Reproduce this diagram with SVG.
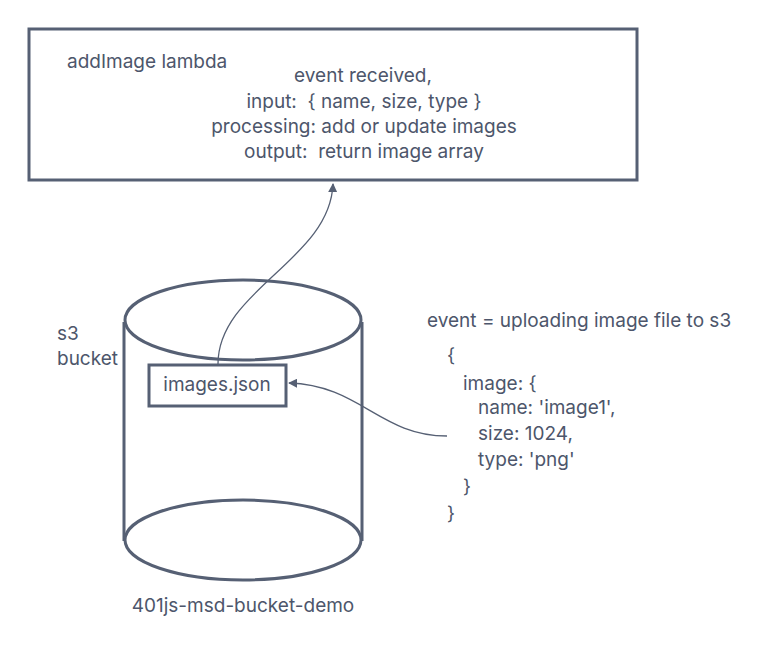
<svg xmlns="http://www.w3.org/2000/svg" width="763" height="652" viewBox="0 0 763 652">
<defs>
<style>
.s{fill:none;stroke:#566074;stroke-width:3}
.c{fill:none;stroke:#566074;stroke-width:1.3}
text{font-family:Inter,"Noto Sans",sans-serif;font-size:19px;fill:#4d566b;white-space:pre}
.m{text-anchor:middle}
</style>
<marker id="ah" viewBox="0 0 10 10" refX="9" refY="5" markerWidth="9" markerHeight="9" markerUnits="userSpaceOnUse" orient="auto"><path d="M0,0 L10,5 L0,10 Z" fill="#566074"/></marker>
</defs>
<rect width="763" height="652" fill="#fff"/>
<g id="lambda">
<rect class="s" x="29" y="29" width="608" height="151"/>
<text x="67" y="68">addImage lambda</text>
<text class="m" x="363" y="82">event received,</text>
<text class="m" x="364" y="108" xml:space="preserve">input:  { name, size, type }</text>
<text class="m" x="364" y="133">processing: add or update images</text>
<text class="m" x="364" y="158" xml:space="preserve">output:  return image array</text>
</g>
<g id="bucket">
<path class="s" d="M124,322 V541 M362,322 V541"/>
<ellipse class="s" cx="243" cy="320" rx="118" ry="40"/>
<ellipse class="s" cx="243" cy="540" rx="118" ry="40"/>
<text x="57" y="340">s3</text>
<text x="57" y="365">bucket</text>
<text class="m" x="243" y="612">401js-msd-bucket-demo</text>
</g>
<g id="images-json">
<rect class="s" x="149" y="365" width="137" height="41"/>
<text class="m" x="217" y="391">images.json</text>
</g>
<g id="event">
<text x="427" y="327">event = uploading image file to s3</text>
<text x="447" y="362">{</text>
<text x="463" y="390">image: {</text>
<text x="478" y="414">name: 'image1',</text>
<text x="478" y="440">size: 1024,</text>
<text x="478" y="466">type: 'png'</text>
<text x="463" y="493">}</text>
<text x="447" y="520">}</text>
</g>
<g id="connectors">
<path class="c" d="M218,364 C218,290 330,260 333,184" marker-end="url(#ah)"/>
<path class="c" d="M447,436 C380,436 360,385 289,383" marker-end="url(#ah)"/>
</g>
</svg>
